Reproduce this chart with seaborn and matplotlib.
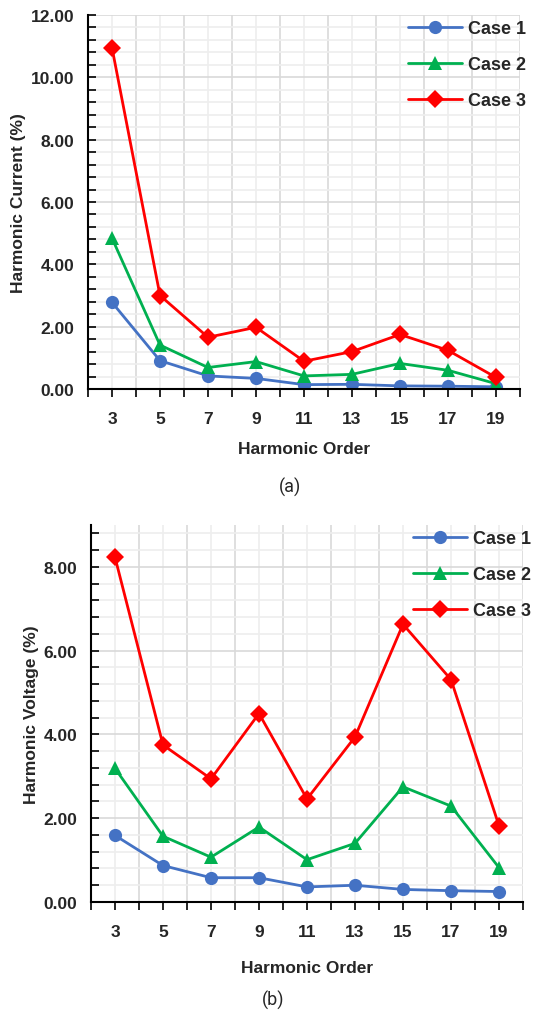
import numpy as np
import pandas as pd
import matplotlib
matplotlib.use('Agg')
import matplotlib.pyplot as plt
import seaborn as sns
from matplotlib.ticker import MultipleLocator, FormatStrFormatter

orders = [3, 5, 7, 9, 11, 13, 15, 17, 19]
cases = ['Case 1', 'Case 2', 'Case 3']

current_case1 = [2.78, 0.91, 0.42, 0.34, 0.14, 0.15, 0.10, 0.09, 0.07]
current_case2 = [4.84, 1.41, 0.69, 0.88, 0.42, 0.47, 0.82, 0.60, 0.17]
current_case3 = [10.95, 3.00, 1.66, 1.98, 0.89, 1.20, 1.75, 1.24, 0.37]

voltage_case1 = [1.59, 0.87, 0.58, 0.58, 0.36, 0.40, 0.30, 0.27, 0.25]
voltage_case2 = [3.19, 1.57, 1.07, 1.79, 1.01, 1.40, 2.75, 2.29, 0.82]
voltage_case3 = [8.23, 3.75, 2.94, 4.50, 2.46, 3.94, 6.63, 5.31, 1.82]

palette = {'Case 1': '#4472C4', 'Case 2': '#00B050', 'Case 3': '#FF0000'}
markers = {'Case 1': 'o', 'Case 2': '^', 'Case 3': 'D'}

sns.set_theme(style='white')
plt.rcParams['font.family'] = ['Liberation Sans', 'DejaVu Sans']
plt.rcParams['font.weight'] = 'bold'

W, H = 556, 1012
FS = 12.5


def to_long(c1, c2, c3):
    rows = []
    for name, vals in zip(cases, [c1, c2, c3]):
        for o, v in zip(orders, vals):
            rows.append({'Order': o, 'Value': v, 'Case': name})
    return pd.DataFrame(rows)


def draw(ax, df, ymax, ylabel, leg_xy, xpad):
    sns.lineplot(data=df, x='Order', y='Value', hue='Case', style='Case',
                 palette=palette, markers=markers, dashes=False,
                 linewidth=2, markersize=9.5, markeredgewidth=0, ax=ax)
    ax.set_xlim(2, 20)
    ax.set_ylim(0, ymax)
    ax.set_xticks(orders)
    ax.set_xticks(np.arange(2, 21, 2), minor=True)
    ax.yaxis.set_major_locator(MultipleLocator(2))
    ax.yaxis.set_minor_locator(MultipleLocator(0.4))
    ax.yaxis.set_major_formatter(FormatStrFormatter('%.2f'))
    ax.grid(True, which='major', axis='y', color='#d9d9d9', linewidth=1.2)
    ax.grid(True, which='minor', axis='y', color='#eeeeee', linewidth=1.2)
    ax.grid(True, which='major', axis='x', color='#eeeeee', linewidth=1.2)
    ax.grid(True, which='minor', axis='x', color='#d9d9d9', linewidth=1.2)
    ax.set_axisbelow(True)
    for s in ['top', 'right']:
        ax.spines[s].set_visible(False)
    for s in ['left', 'bottom']:
        ax.spines[s].set_color('black')
        ax.spines[s].set_linewidth(1.5)
    ax.tick_params(axis='y', which='both', direction='in', length=6, width=1.2,
                   left=True, color='black', labelsize=FS, pad=10)
    ax.tick_params(axis='x', which='both', direction='out', length=6, width=1.2,
                   bottom=True, color='black', labelsize=FS, pad=10)
    for lab in ax.get_xticklabels() + ax.get_yticklabels():
        lab.set_fontweight('bold')
    ax.set_xlabel('Harmonic Order', fontsize=FS, fontweight='bold', labelpad=xpad)
    ax.set_ylabel(ylabel, fontsize=FS, fontweight='bold', labelpad=3)
    handles, labels = ax.get_legend_handles_labels()
    ax.legend(handles, labels, loc='upper left', frameon=False,
              bbox_to_anchor=(leg_xy[0] / W, 1 - leg_xy[1] / H),
              bbox_transform=ax.figure.transFigure,
              borderaxespad=0, borderpad=0, handlelength=3.0,
              handletextpad=0.3, labelspacing=1.05,
              prop={'weight': 'bold', 'size': FS + 0.5})


fig = plt.figure(figsize=(W / 100, H / 100), dpi=100)

ax1 = fig.add_axes([88 / W, 1 - 390 / H, 432 / W, 374 / H])
draw(ax1, to_long(current_case1, current_case2, current_case3), 12,
     'Harmonic Current (%)', (408, 21), 11)

ax2 = fig.add_axes([91 / W, 1 - 903 / H, 432 / W, 377 / H])
draw(ax2, to_long(voltage_case1, voltage_case2, voltage_case3), 9,
     'Harmonic Voltage (%)', (413, 531), 15)

fig.text(290 / W, 1 - 487 / H, '(a)', ha='center', va='center',
         fontsize=13, fontweight='normal', family=['Roboto', 'DejaVu Sans'])
fig.text(273 / W, 1 - 1000 / H, '(b)', ha='center', va='center',
         fontsize=13, fontweight='normal', family=['Roboto', 'DejaVu Sans'])

fig.savefig('out.png', dpi=100)
